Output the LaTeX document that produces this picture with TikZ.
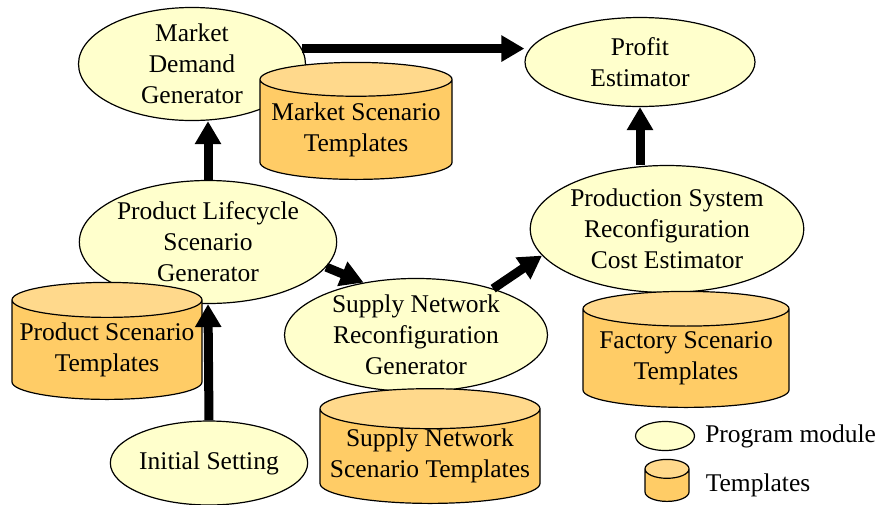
\documentclass[tikz,border=0pt]{standalone}
\usepackage{fontspec}
\setmainfont{Liberation Serif}
\usetikzlibrary{shapes.geometric,arrows.meta,positioning}
\definecolor{modfill}{RGB}{255,255,204}
\definecolor{tbody}{RGB}{255,204,102}
\definecolor{ttop}{RGB}{255,217,140}
\tikzset{
  module/.style={ellipse, draw, line width=1.2pt, fill=modfill, inner sep=0pt, align=center},
  templ/.style={cylinder, shape border rotate=90, draw, line width=1.2pt, aspect=0.2,
    cylinder uses custom fill, cylinder body fill=tbody, cylinder end fill=ttop,
    inner sep=0pt, align=center, anchor=south},
  flow/.style={line width=9pt, -{Triangle[width=25pt,length=23pt]}}
}
\begin{document}
\begin{tikzpicture}[x=1pt,y=-1pt,font=\fontsize{25.5}{31}\selectfont]
\useasboundingbox (0,0) rectangle (880,504);

% Program modules
\node[module, minimum width=227pt, minimum height=110pt] (mdg) at (192,64) {Market\\Demand\\Generator};
\node[module, minimum width=230pt, minimum height=89pt] (pe) at (640,62) {Profit\\Estimator};
\node[module, minimum width=255pt, minimum height=127pt] (pse) at (667,229) {Production System\\Reconfiguration\\Cost Estimator};
\node[module, minimum width=247pt, minimum height=123pt] (plg) at (208,242) {Product Lifecycle\\Scenario\\Generator};
\node[module, minimum width=263pt, minimum height=110pt] (sng) at (416,335) {Supply Network\\Reconfiguration\\Generator};
\node[module, minimum width=192pt, minimum height=84pt] (is) at (209,463) {Initial Setting};

% Templates (placed by their bottom point)
\node[templ, minimum width=192pt, minimum height=117pt] (mst) at (356,180) {Market Scenario\\Templates};
\node[templ, minimum width=190pt, minimum height=117pt] (pst) at (107,400) {Product Scenario\\Templates};
\node[templ, minimum width=206pt, minimum height=116pt] (fst) at (686,408) {Factory Scenario\\Templates};
\node[templ, minimum width=220pt, minimum height=114pt] (snst) at (430,504) {Supply Network\\Scenario Templates};

% Legend
\node[module, minimum width=59pt, minimum height=29pt] (lm) at (665,436) {};
\node[right=10pt of lm, inner sep=0pt] (lmt) {Program module};
\node[templ, aspect=0.45, minimum width=44pt, minimum height=42pt] (lt) at (667,502) {\hspace*{42pt}};
\node[right=16pt of lt.east, inner sep=0pt] (ltt) {Templates};

% Data flow
\draw[flow] (mdg.8) -- (mdg.8 -| pe.west);
\draw[flow] (plg.north) -- (plg.north |- mdg.south);
\draw[flow] (is.north) -- (plg.south);
\draw[flow] (plg.-12) -- (sng.135);
\draw[flow] (sng.31) -- (pse.192);
\draw[flow] (pe.south |- pse.north) -- (pe.south);
\end{tikzpicture}
\end{document}
